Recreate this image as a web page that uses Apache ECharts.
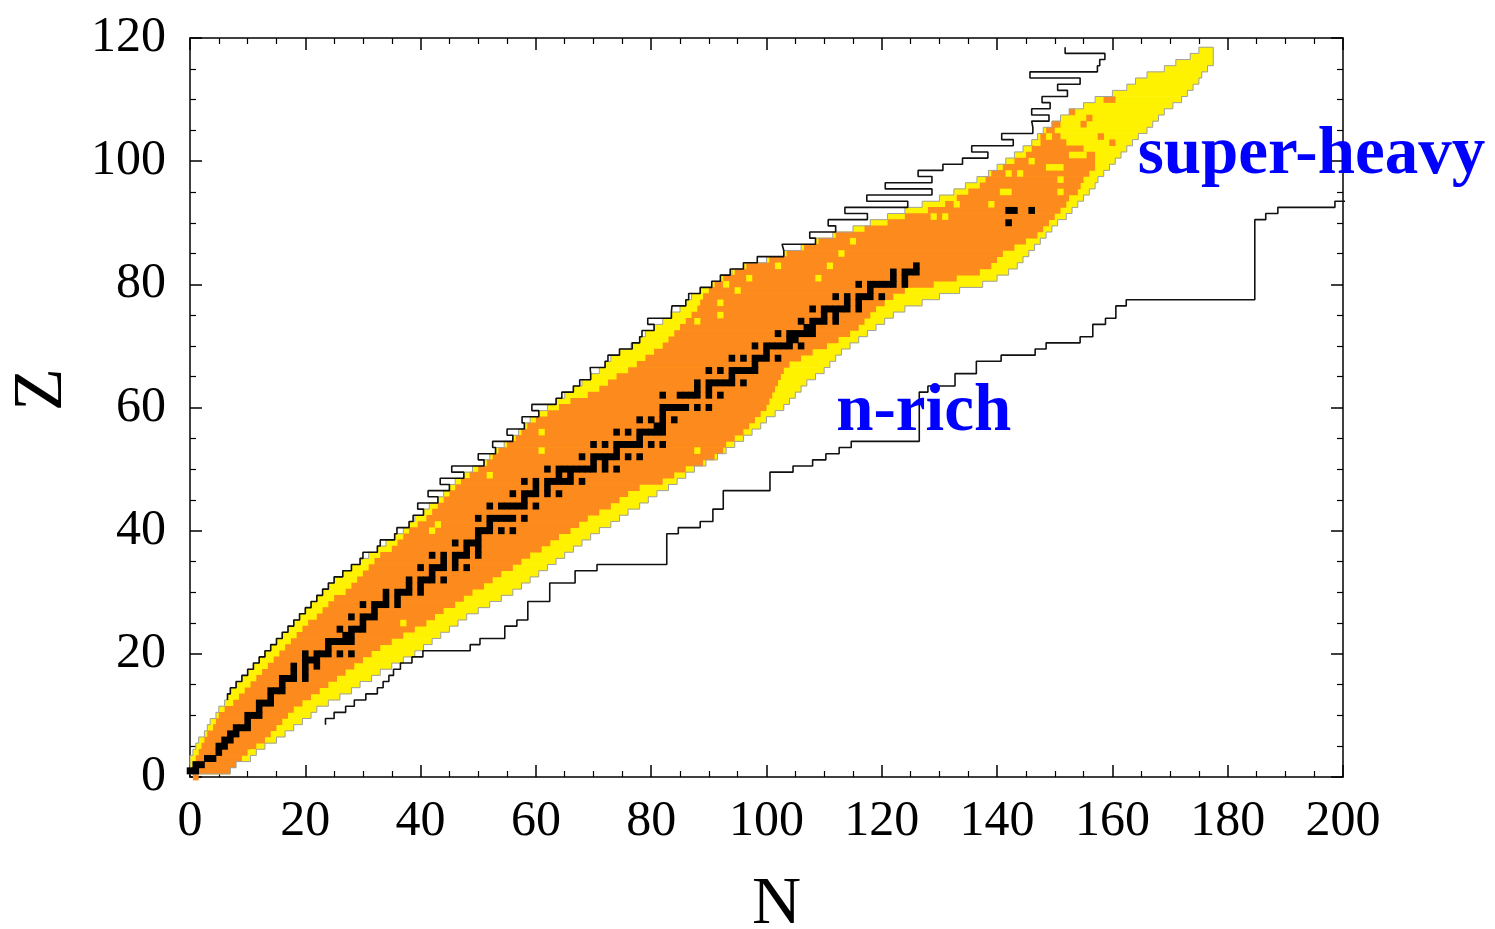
<!DOCTYPE html>
<html><head><meta charset="utf-8">
<script src="https://cdn.jsdelivr.net/npm/echarts@6/dist/echarts.min.js"></script>
<style>html,body{margin:0;padding:0;background:#fff}#c{width:1495px;height:929px}</style>
</head><body><div id="c"></div>
<script>
// ---- data (N boundaries per proton number Z) ----
// yellow band, Z = 1..118 : left / right N boundary
const yellowLo = [0,0,0,0.5,1,1.5,2.5,3,3.5,4.5,
5,6,6.5,7,8,9,10,11,12,13,
14,15,16,17,18,19,20,21,22,23,
24,25,26.5,28,29.5,31,32.5,34,35.5,37,
38,39,40.5,41.5,43,44,45,46,47.5,49,
51,52,53,54.5,56,57,58,59,60.5,62,
63.5,65,66.5,68,69.5,71,72,73,74.5,76.5,
78,79,80.5,82,83.5,85,86,87,88.5,90.5,
92,94,96,100,103,106,108.5,111.5,115,118,
121,124,127,130,132.5,134.5,136.5,138.5,140,141.5,
143,144.5,146,147,148,149.5,151,152.5,155,157,
160,162.5,164,166,169,171,173.5,175];
const yellowHi = [7,8,10.5,11.5,13,15,16.5,18,19.5,21,
22,24,26,28,29.5,31.5,33,35,37,39,
40.5,42,43.5,45,46.5,48,50,52,54,56,
57.5,59,60.5,62,63.5,65,66.5,68,69.5,71,
73,74.5,76,78,79.5,81,83,84.5,86,87.5,
89.5,91.5,93,94.5,96,97.5,99,100,101.5,103,
104,105,106,107,108.5,110,111,112,113,114.5,
116,117.5,119,120.5,122,124,127,130,133.5,137.5,
140,142,143.5,144.5,145.5,146.5,147.5,148.5,149.5,150.5,
152,153,154,155,156,157,157.5,158.5,159.5,160.5,
161.5,162.5,163.5,164.5,166,167,168,169,170.5,172,
173,174,175,175.5,176.5,177.5,177.5,177.5];
// orange band, Z = 0..106 : left / right N boundary
const orangeLo = [0.5,
0,0.5,1,1.5,2,2.5,3,4,4.5,5,
6,7.5,8.5,9.5,10.5,11.5,12.5,13.5,14.5,15.5,
16.5,17.5,18.5,19.5,20.5,22,23,24,25,27,
28,29,30,31,32,33,35,36,37,38,
39.5,41,42,43,44,45,46,47,48.5,50,
51.5,52.5,53.5,55,56.5,57.5,58.5,60,62,64,
66,69,71,72.5,74,76,77.5,79,80.5,82,
83,84,85,86,87,88,88.5,89,90,91,
92.5,94.5,96.5,100.5,103.5,106.5,109,112,117,121,
124,128,131,133,135,137,138,139,141,143,
145,146,147,147.5,148.5,149.5];
const orangeHi = [1.5,
7,8,9,10,11.5,13,14,15,16,17,
18,19.5,21,22.5,24,25.5,27,28.5,30,31.5,
33,35,37,39,41,42.5,44,46,47.5,49,
51,52.5,54,56,57.5,59,61,62.5,64,66,
67.5,69,71,73,74.5,76,78,82,84,86,
89,91,92.5,93,94.5,96,97,98,99,100,
100.5,101,101.5,102,102.5,103,104,106,108,110.5,
112.5,114.5,116,117,118,119,120.5,122,124,129,
133,137,139,140,141,143,145,147,148,149,
150,151,152,152.5,154,154.5,155,156,157,157,
157,155,152,151,150,151];
// stable nuclides: neutron numbers N for each Z (index = Z)
const stableN = [[],
[0,1],[1,2],[3,4],[5],[5,6],[6,7],[7,8],[8,9,10],[10],[10,11,12],
[12],[12,13,14],[14],[14,15,16],[16],[16,17,18,20],[18,20],[18,20,22],[20,21,22],[20,22,23,24,26,28],
[24],[24,25,26,27,28],[27,28],[26,28,29,30],[30],[28,30,31,32],[32],[30,32,33,34,36],[34,36],[34,36,37,38,40],
[38,40],[38,40,41,42,44],[42],[40,42,43,44,46,48],[44,46],[42,44,46,47,48,50],[48,50],[46,48,49,50],[50],[50,51,52,54,56],
[52],[50,52,53,54,55,56,58],[],[52,54,55,56,57,58,60],[58],[56,58,59,60,62,64],[60,62],[58,60,62,63,64,65,66,68],[64,66],[62,64,65,66,67,68,69,70,72,74],
[70,72],[68,70,71,72,73,74,76,78],[74],[70,72,74,75,76,77,78,80,82],[78],[74,76,78,79,80,81,82],[81,82],[78,80,82,84],[82],[82,83,84,85,86,88,90],
[],[82,85,86,87,88,90,92],[88,90],[88,90,91,92,93,94,96],[94],[90,92,94,95,96,97,98],[98],[94,96,98,99,100,102],[100],[98,100,101,102,103,104,106],
[104,105],[102,104,105,106,107,108],[107,108],[106,108,109,110,112],[110,112],[108,110,111,112,113,114,116],[114,116],[112,114,116,117,118,120],[118],[116,118,119,120,121,122,124],
[122,124],[122,124,125,126],[126],[],[],[],[],[],[],[142],
[],[142,143,146]];
// isolated cells [N, Z]
const yellowSpots = [[11,4],[30,28],[37,25],[42,40],[43,41],[52,49],[61,53],[61,56],[88,53],[92,75],[92,77],[88,74],
[95,79],[93,80],[97,81],[102,83],[109,81],[111,83],[113,85],[115,87],[129,91],[131,91],[133,93],[139,93],[141,95],[142,95],
[151,95],[151,97],[142,98],[144,98],[149,99],[150,99],[151,99],[146,100],[153,101],[154,101],[155,101],[147,103],[149,104]];
const orangeSpots = [[159,110],[160,110],[156,107],[155,106],[153,108],[158,104],[160,103]];
// proton drip line, left N boundary for Z = 13..118
const protonDrip = [6.5,7,8,9,10,11,12,13,14,15,
16,17,18,19,20,21,22,23,24,25,
26.5,28,29.5,30,32.5,33,35.5,35.9,38,38.7,
40.5,39.5,43,41.3,45,43.4,47.5,45.4,51,50,
53,52.5,56,55,58,57.6,60.5,59.3,63.5,64.5,
66.5,67.6,69.5,69.4,72,72.5,74.5,76.7,78,78.4,
80.5,79.4,83.5,83.6,86,86.5,88.5,90.5,92,93.7,
96,98.4,103,102.7,108.5,107.5,112,110.7,117.5,113.6,
124.5,117.4,128.7,120.6,128.7,126.3,130.6,134,138.4,135.6,
142.8,140.8,146.2,146,149,146,149.2,147.8,152.2,150.5,
154.4,145.7,157.4,157.8,158.7,151.8];
// neutron drip line, right N boundary for Z = 9..94
const neutronDrip = [23.5,25,27,28.5,30.5,32.5,33.5,34.5,35.3,36.5,
38.5,40.4,48.6,50.3,54.6,54.6,56.7,58.6,58.6,58.6,
62.4,62.4,62.4,66.8,66.8,70.6,82.7,82.7,82.7,82.7,
82.7,84.7,88.5,90.7,90.7,92.5,92.5,92.5,100.6,100.6,
100.6,104.6,108,110.3,112.6,114.7,126.5,126.5,126.5,126.5,
126.5,126.5,126.5,126.5,128,132.7,132.7,136.4,136.4,140.7,
146.6,148.5,154.4,156.6,156.6,158.8,160.6,160.6,162.4,184.7,
184.7,184.7,184.7,184.7,184.7,184.7,184.7,184.7,184.7,184.7,
184.7,184.7,186.6,188.7,198.6,201];
const xTicks = {min:0, max:200, step:20};
const yTicks = {min:0, max:120, step:20};
const labels = [{text:'super-heavy', N:164.4, Z:100.9},{text:'n-rich', N:112.1, Z:59.1}];

// ---- build ----
function rows(lo, hi, z0){ const out=[]; for(let i=0;i<lo.length;i++){ if(lo[i]==null) continue; out.push([z0+i, lo[i], hi[i]]); } return out; }
function contour(edges, z0){ const pts=[]; edges.forEach((n,i)=>{ const z=z0+i; pts.push([n,z-0.5],[n,z+0.5]); }); return pts; }
const stableCells = []; stableN.forEach((ns,z)=>ns.forEach(n=>stableCells.push([n,z])));
const yl = contour(yellowLo,1), yr = contour(yellowHi,1).reverse();
const outline = yl.concat(yr, [yl[0]]);

function rowRenderer(fill){ return function(params, api){
  const z=api.value(0), lo=api.value(1), hi=api.value(2);
  const a=api.coord([lo, z+0.5]), b=api.coord([hi, z-0.5]);
  return {type:'rect', shape:{x:a[0], y:a[1]-0.3, width:b[0]-a[0], height:b[1]-a[1]+0.6}, style:{fill:fill}};
};}
function cellRenderer(fill, grow){ return function(params, api){
  const n=api.value(0), z=api.value(1);
  const a=api.coord([n-0.5, z+0.5]), b=api.coord([n+0.5, z-0.5]);
  return {type:'rect', shape:{x:a[0]-grow, y:a[1]-grow, width:b[0]-a[0]+2*grow, height:b[1]-a[1]+2*grow}, style:{fill:fill}};
};}

const serif = 'Liberation Serif';
const common = {
  type:'value', splitLine:{show:false},
  axisLine:{show:true, onZero:false, lineStyle:{color:'#000', width:1.5}},
  axisTick:{show:true, inside:true, length:12, lineStyle:{color:'#000', width:1.5}},
  minorTick:{show:true, splitNumber:4, length:6, lineStyle:{color:'#000', width:1.2}}
};
const chart = echarts.init(document.getElementById('c'));
chart.setOption({
  animation:false,
  backgroundColor:'#fff',
  grid:{left:190, right:152, top:38, bottom:152, outerBoundsMode:'none'},
  xAxis:[
    Object.assign({}, common, {min:xTicks.min, max:xTicks.max, interval:xTicks.step, position:'bottom',
      axisLabel:{color:'#000', fontFamily:serif, fontSize:50, margin:20},
      name:'N', nameLocation:'middle', nameGap:94, nameTextStyle:{color:'#000', fontFamily:serif, fontSize:68, padding:[0,0,0,20]}}),
    Object.assign({}, common, {min:xTicks.min, max:xTicks.max, interval:xTicks.step, position:'top', axisLabel:{show:false}})
  ],
  yAxis:[
    Object.assign({}, common, {min:yTicks.min, max:yTicks.max, interval:yTicks.step, position:'left',
      axisLabel:{color:'#000', fontFamily:serif, fontSize:50, margin:24},
      name:'Z', nameLocation:'middle', nameGap:112, nameTextStyle:{color:'#000', fontFamily:serif, fontSize:70, padding:[0,0,0,36]}}),
    Object.assign({}, common, {min:yTicks.min, max:yTicks.max, interval:yTicks.step, position:'right', axisLabel:{show:false}})
  ],
  series:[
    {type:'custom', renderItem:rowRenderer('#fff200'), data:rows(yellowLo,yellowHi,1), clip:false, z:1, silent:true},
    {type:'custom', renderItem:rowRenderer('#fd8a1c'), data:rows(orangeLo,orangeHi,0), clip:false, z:2, silent:true},
    {type:'custom', renderItem:cellRenderer('#fff200',0.2), data:yellowSpots, clip:false, z:3, silent:true},
    {type:'custom', renderItem:cellRenderer('#fd8a1c',0.2), data:orangeSpots, clip:false, z:3, silent:true},
    {type:'line', data:outline, symbol:'none', lineStyle:{color:'#a0a0a0', width:1}, z:4, silent:true},
    {type:'custom', renderItem:cellRenderer('#000',0.4), data:stableCells, clip:false, z:5, silent:true},
    {type:'line', data:contour(protonDrip,13), symbol:'none', lineStyle:{color:'#111', width:1.6}, z:6, silent:true},
    {type:'line', data:contour(neutronDrip,9), symbol:'none', lineStyle:{color:'#111', width:1.6}, z:6, silent:true}
  ]
});
const g = labels.map(l=>{ const p = chart.convertToPixel({xAxisIndex:0,yAxisIndex:0},[l.N,l.Z]);
  return {type:'text', x:p[0], y:p[1], z:100, style:{text:l.text, font:'bold 67px "Liberation Serif"', fill:'#0000ff', align:'left', verticalAlign:'middle'}}; });
chart.setOption({graphic:g});
</script></body></html>
